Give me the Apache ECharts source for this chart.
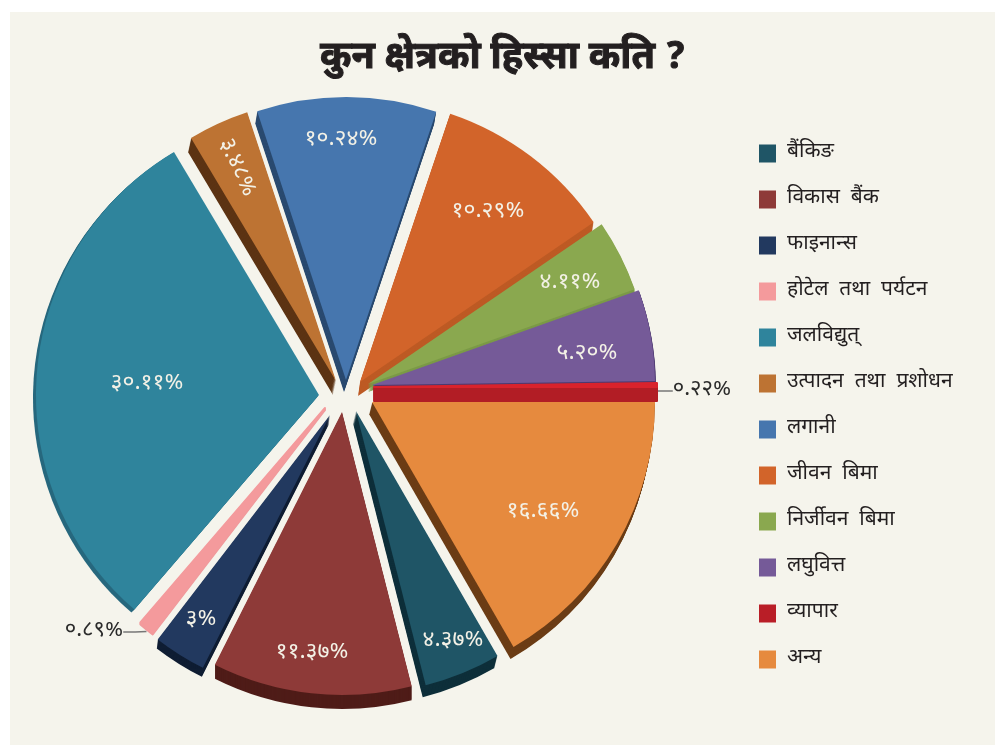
<!DOCTYPE html>
<html>
<head>
<meta charset="utf-8">
<style>html,body{margin:0;padding:0;background:#fff}#chart{width:1001px;height:750px}</style>
<script src="https://cdn.jsdelivr.net/npm/echarts@6/dist/echarts.min.js"></script>
</head>
<body>
<div id="chart"></div>
<script>
// Sector names, in clockwise order starting from the banking slice
var sectors = ['बैंकिङ','विकास बैंक','फाइनान्स','होटेल तथा पर्यटन','जलविद्युत्','उत्पादन तथा प्रशोधन','लगानी','जीवन बिमा','निर्जीवन बिमा','लघुवित्त','व्यापार','अन्य'];
var shares = [4.37,11.37,3,0.89,30.11,3.48,10.24,10.29,4.11,5.20,0.22,16.66];
var shareLabels = ['४.३७%','११.३७%','३%','०.८९%','३०.११%','३.४८%','१०.२४%','१०.२९%','४.११%','५.२०%','०.२२%','१६.६६%'];
var faceColors = ['#1f5566','#8e3a38','#22395f','#f49a9c','#2f849c','#bd7333','#4676ae','#d2642a','#8aa84f','#755a98','#d9232c','#e68a3e'];
var sideColors = ['#0e2f3a','#4f1c18','#0f1d33','#f19a9c','#27687e','#5c3313','#2a4a70','#bd5a24','#7b9a47','#4d3a70','#b21d25','#6b3c15'];
var legendColors = ['#1f5566','#8e3a38','#22395f','#f49a9c','#2f849c','#bd7333','#4676ae','#d2642a','#8aa84f','#755a98','#b91e27','#e68a3e'];
// Where each pulled-out slice has its point
var sliceCentres = [[356,411],[342,412],[330,415],[325,408],[319,395],[336,381],[346,380],[360,382],[368,384],[372,385],[374,387],[372,402]];
// How far each slice's side wall drops, as [x, y] pixels
var sliceDrops = [[-3,12],[0,14],[-1,9],[0,2],[-3,3],[-3,14],[-2,12],[-2,14],[0,8],[1,3],[0,14],[-3,12]];
// Centre of each value label's box
var labelSpots = [[453,642],[312,654],[201,621],[94,632],[147,385],[236,168],[341,141],[488,213],[570,284],[587,355],[702,391],[543,513]];
// Slices labelled from outside, with the drop that levels their leader line
var leaderDrops = { 'होटेल तथा पर्यटन': [0, 4], 'व्यापार': [0, 6] };
var tiltedLabels = { 'उत्पादन तथा प्रशोधन': -65 };
var noColors = sectors.map(function () { return 'rgba(0,0,0,0)'; });

var RADIUS = 283, DEPTH = 14;
var FONT = '"Noto Sans Devanagari","Noto Sans",sans-serif';

// One pie showing only slice `owner`; the other slices keep their angle but stay invisible
function slicePie(owner, colors, dropX, dropY, withLabel) {
  var thin = shares[owner] < 1 && !withLabel;
  return {
    type: 'pie',
    name: sectors[owner] + (withLabel ? '' : ' wall'),
    radius: [0, RADIUS],
    center: [sliceCentres[owner][0] + dropX, sliceCentres[owner][1] + dropY],
    startAngle: -60,
    clockwise: true,
    animation: false,
    silent: !withLabel,
    avoidLabelOverlap: false,
    emphasis: { disabled: true },
    label: { show: false, fontFamily: FONT, fontSize: 23 },
    labelLine: { show: false },
    labelLayout: withLabel ? function (p) {
      if (p.dataIndex !== owner) return {};
      var spot = { x: labelSpots[owner][0], y: labelSpots[owner][1], align: 'center', verticalAlign: 'middle' };
      if (tiltedLabels[sectors[owner]]) spot.rotate = tiltedLabels[sectors[owner]];
      return spot;
    } : null,
    data: sectors.map(function (name, i) {
      var item = {
        name: name,
        value: shares[i],
        itemStyle: i === owner
          ? { color: colors[i], borderColor: colors[i], borderWidth: thin ? 2 : 0 }
          : { color: 'rgba(0,0,0,0)' }
      };
      if (withLabel && i === owner) {
        var outer = !!leaderDrops[name];
        item.label = {
          show: true,
          formatter: shareLabels[i],
          position: outer ? 'outside' : 'inside',
          fontSize: outer ? 22 : 23,
          padding: outer ? [8, 0, 0, 0] : 0,
          color: outer ? '#2b2b2b' : '#f3f1e6'
        };
        item.labelLine = { show: outer, length: 1, length2: 12, lineStyle: { color: '#777', width: 1.5 } };
      }
      return item;
    })
  };
}

var series = [];
// Side walls: each slice repeated a pixel at a time, deepest layer at the back
for (var k = DEPTH; k >= 1; k--) {
  for (var s = 0; s < sectors.length; s++) {
    var drop = sliceDrops[s], steps = Math.max(Math.abs(drop[0]), Math.abs(drop[1]));
    if (k <= steps) {
      series.push(slicePie(s, sideColors, drop[0] * k / steps, drop[1] * k / steps, false));
    }
  }
}
// Top faces, plus an unpainted copy of the thin slices that carries their outside label
for (var f = 0; f < sectors.length; f++) {
  var leader = leaderDrops[sectors[f]];
  if (leader) {
    series.push(slicePie(f, faceColors, 0, 0, false));
    series.push(slicePie(f, noColors, leader[0], leader[1], true));
  } else {
    series.push(slicePie(f, faceColors, 0, 0, true));
  }
}

var chart = echarts.init(document.getElementById('chart'), null, { renderer: 'canvas' });
chart.setOption({
  backgroundColor: '#ffffff',
  animation: false,
  title: {
    text: 'कुन क्षेत्रको हिस्सा कति ?',
    left: 315, top: 37,
    textStyle: { fontFamily: FONT, fontWeight: 'bold', fontSize: 38, color: '#231f20', textBorderColor: '#231f20', textBorderWidth: 1 }
  },
  graphic: [{
    type: 'rect', silent: true, z: -10,
    shape: { x: 10, y: 12, width: 985, height: 733 },
    style: { fill: '#f5f4ec' }
  }],
  legend: {
    orient: 'vertical',
    left: 754, top: 138,
    icon: 'rect',
    itemWidth: 17, itemHeight: 18, itemGap: 25,
    selectedMode: false,
    data: sectors.map(function (name, i) {
      return { name: name, itemStyle: { color: legendColors[i] } };
    }),
    formatter: function (name) { return name.replace(/ /g, '  '); },
    textStyle: { fontFamily: FONT, fontSize: 21, color: '#231f20', padding: [4, 0, 0, 6] }
  },
  series: series
});
</script>
</body>
</html>
